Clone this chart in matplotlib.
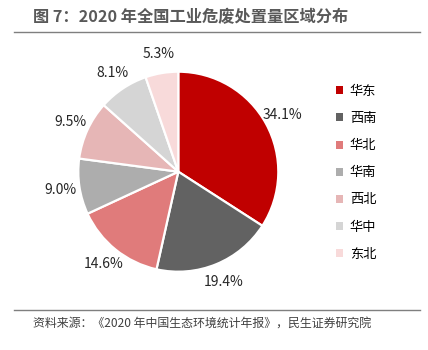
import matplotlib.pyplot as plt
import numpy as np
from matplotlib.patches import Patch

plt.rcParams['font.family'] = ['Noto Sans CJK SC', 'DejaVu Sans']

# --- Data ---
regions = ['华东', '西南', '华北', '华南', '西北', '华中', '东北']
shares = [34.1, 19.4, 14.6, 9.0, 9.5, 8.1, 5.3]
colors = ['#C00000', '#626262', '#E07B7B', '#ADADAD', '#E6B6B6', '#D5D5D5', '#F8DADA']

title = '图 7：2020 年全国工业危废处置量区域分布'
source = '资料来源：《2020 年中国生态环境统计年报》，民生证券研究院'

W, H = 428, 350
fig = plt.figure(figsize=(W / 100, H / 100), dpi=100)

# pie axes: centre (178, 172) px, radius 100 px
cx, cy, r = 178.3, 171.7, 100
ax = fig.add_axes([(cx - r) / W, (H - cy - r) / H, 2 * r / W, 2 * r / H])
wedges, _ = ax.pie(shares, colors=colors, startangle=90, counterclock=False,
                   wedgeprops=dict(edgecolor='white', linewidth=1.6))
ax.set_xlim(-1, 1)
ax.set_ylim(-1, 1)
ax.set_aspect('equal')
ax.axis('off')

# percentage labels outside each slice
for w, v in zip(wedges, shares):
    ang = np.deg2rad((w.theta1 + w.theta2) / 2)
    ax.text(1.19 * np.cos(ang), 1.19 * np.sin(ang), f'{v:.1f}%',
            ha='center', va='center', fontsize=10, color='#262626', clip_on=False)

# legend on the right
handles = [Patch(facecolor=c, edgecolor='none') for c in colors]
fig.legend(handles, regions, loc='upper left', bbox_to_anchor=(336 / W, 1 - 85 / H),
           frameon=False, fontsize=9.5, handlelength=0.55, handleheight=0.55,
           handletextpad=0.5, labelspacing=1.07, borderaxespad=0, borderpad=0)

# title, rules, source
fig.text(33 / W, 1 - 17 / H, title, fontsize=11.7, fontweight='bold', color='#595959',
         ha='left', va='center')
fig.add_artist(plt.Line2D([14 / W, 420 / W], [1 - 32 / H, 1 - 32 / H],
                          color='#7F7F7F', linewidth=1))
fig.add_artist(plt.Line2D([14 / W, 420 / W], [1 - 310 / H, 1 - 310 / H],
                          color='#7F7F7F', linewidth=1))
fig.text(33 / W, 1 - 323 / H, source, fontsize=8.6, color='#404040',
         ha='left', va='center')

fig.savefig('out.png', dpi=100)
